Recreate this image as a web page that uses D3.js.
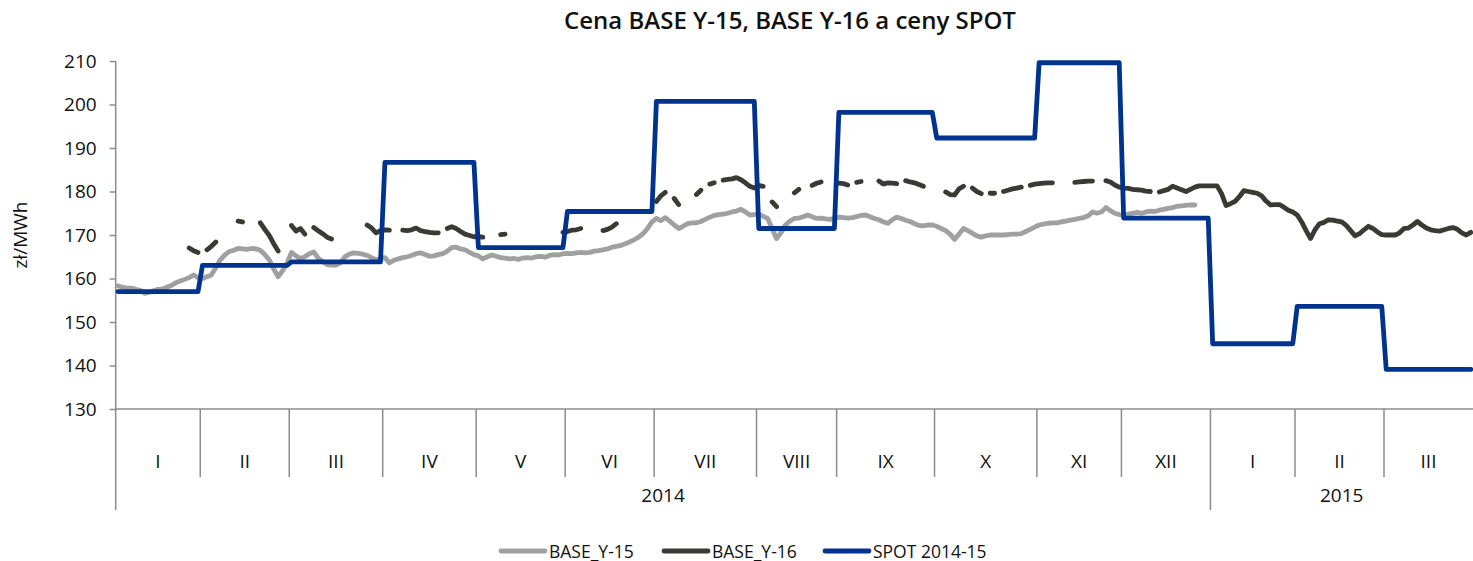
<!DOCTYPE html>
<html>
<head>
<meta charset="utf-8">
<script src="https://cdn.jsdelivr.net/npm/d3@7"></script>
<style>
  body { margin: 0; background: #fff; }
  text { font-family: "Open Sans", "Noto Sans", sans-serif; fill: #111; }
</style>
</head>
<body>
<div id="chart"></div>
<script>
////////////////////////////////////////////////////////////
//////////////////////// Data //////////////////////////////
////////////////////////////////////////////////////////////
var monthLabels = ["I","II","III","IV","V","VI","VII","VIII","IX","X","XI","XII","I","II","III"];
var monthCounts = [19,20,21,21,20,20,23,18,22,23,19,20,19,20,20];
var yearLabels = [{label: "2014", months: 12}, {label: "2015", months: 3}];
var yTicks = [130,140,150,160,170,180,190,200,210];

var spotMonthly = [157,163,163.8,186.7,167.1,175.4,200.7,171.5,198.2,192.3,209.6,173.9,145,153.6,139.1];

var base15 = [
  158.3,158,157.8,157.8,157.5,157.3,156.6,156.8,157.2,157.5,157.6,158,158.4,159,159.4,159.8,160.2,160.8,160.2,
  160,160.4,160.8,162.5,164.3,165.4,166.2,166.5,166.9,166.8,166.7,166.9,166.8,166.5,165.5,164.3,162.2,160.4,161.8,163.5,
  166,165.2,164.6,165,165.7,166.1,164.7,163.9,163.2,163.1,163.1,163.6,165,165.6,165.9,165.8,165.6,165.3,164.8,164.3,164.6,
  164.8,163.6,164.2,164.5,164.8,165,165.3,165.7,165.9,165.5,165.1,165.2,165.5,165.7,166.3,167.1,167.2,166.8,166.6,166,165.5,
  165.2,164.5,165,165.4,165.1,164.8,164.7,164.5,164.6,164.4,164.7,164.8,164.7,165,165.1,164.9,165.3,165.5,165.4,165.7,
  165.8,165.7,165.9,166,165.9,166,166.3,166.4,166.6,166.8,167.2,167.4,167.6,168,168.4,168.9,169.5,170.3,171.5,173,
  173.8,173.3,174,173.2,172.3,171.5,172,172.6,172.8,172.8,173.1,173.6,174.1,174.5,174.7,174.8,175,175.3,175.5,175.9,175.3,174.6,174.7,
  174.8,174.3,173.8,171.5,169.2,170.5,172.3,173.2,173.8,173.9,174.2,174.6,174.2,173.8,173.9,173.7,173.6,173.8,
  174.1,174,173.9,174,174.2,174.5,174.6,174.2,173.8,173.5,173,172.7,173.5,174.1,173.8,173.4,173.1,172.6,172.2,172.1,172.3,172.3,
  172,171.5,171,170.2,169,170.2,171.5,171,170.4,169.8,169.5,169.8,170,170,170,170,170.1,170.2,170.2,170.3,170.8,171.3,171.8,
  172.3,172.5,172.7,172.8,172.8,173,173.2,173.4,173.6,173.8,174,174.4,175.3,175,175.3,176.3,175.6,175,174.7,
  174.6,174.8,175,175.2,175,175.3,175.5,175.4,175.7,175.9,176.1,176.3,176.6,176.7,176.8,176.9,176.9
];

var base16 = [
  null,null,null,null,null,null,null,null,null,null,null,null,null,null,null,null,167,166.4,166,
  null,166.6,167.4,168.4,null,null,null,null,173.2,173,null,null,null,172.8,171.3,169.9,168,166.3,null,null,
  172.2,170.9,171.5,170.2,null,171.7,171,170.3,169.5,169.1,null,null,null,null,null,null,null,172.3,171.6,170.5,171,
  171.2,171.1,null,null,171.1,171,171.2,171.6,171,170.8,170.6,170.5,170.5,null,171.5,171.9,171.5,170.8,170.2,169.9,169.6,
  169.6,169.5,null,null,null,170.1,170.2,null,null,null,null,null,null,null,null,null,null,null,null,170.6,
  170.8,171.1,171.2,171.5,null,null,null,null,171,171.3,171.8,172.6,null,null,null,null,null,null,null,null,
  177.7,179,179.8,null,178.4,177,null,null,null,179.3,180.3,null,181.7,182,null,182.6,182.8,182.9,183.2,182.7,182,181.2,180.8,
  181.4,181.2,null,177.6,176.5,null,null,null,179.7,180.5,null,null,181.4,181.9,182.2,null,null,null,
  181.9,181.8,181.5,null,182.1,182.3,null,null,null,182.4,181.7,182,181.9,181.8,null,182.5,182.2,182,181.6,181.2,null,null,
  null,null,179.9,179.3,179.2,180.6,181.2,null,180.8,180,179.5,null,179.6,179.6,null,180,180.3,180.6,180.8,181,null,181.4,181.7,
  181.8,181.9,182,182,null,null,null,null,182.1,182.2,182.3,182.4,182.4,null,null,182.5,182.2,181.5,181,
  180.8,180.7,180.5,180.4,180.3,180.1,180,null,179.9,180.2,180.5,181.2,180.8,180.4,180,180.5,181,181.3,181.3,181.3,
  181.3,181.3,179.5,176.8,177.2,177.7,178.8,180.2,180,179.8,179.6,179,177.8,176.9,177,177,176.4,175.7,175.3,
  174.6,173,171,169.2,171.2,172.6,172.9,173.5,173.4,173.2,173,172.2,171,169.8,170.3,171.2,172,171.5,170.7,170.1,
  170,170,170,170.5,171.5,171.6,172.3,173.1,172.3,171.6,171.2,171,170.9,171.2,171.5,171.7,171.3,170.5,170,170.6
];

////////////////////////////////////////////////////////////
//////////////////////// Setup /////////////////////////////
////////////////////////////////////////////////////////////
var W = 1473, H = 561;
var margin = {left: 115.7, top: 61, right: 0, bottom: 152};
var plotBottom = H - margin.bottom;

var nPoints = d3.sum(monthCounts);
var monthStarts = [];
monthCounts.reduce(function(acc, c) { monthStarts.push(acc); return acc + c; }, 0);

// spot: monthly value held over every point of its month
var spot = [];
monthCounts.forEach(function(c, m) {
  for (var k = 0; k < c; k++) spot.push(spotMonthly[m]);
});

var x = d3.scaleBand()
  .domain(d3.range(nPoints))
  .range([margin.left, W - margin.right])
  .padding(0);

var y = d3.scaleLinear()
  .domain([130, 210])
  .range([plotBottom, margin.top]);

var xEdge = function(i) { return margin.left + i * x.step(); };
var xMid = function(i) { return x(i) + x.bandwidth() / 2; };

var svg = d3.select("#chart").append("svg")
  .attr("width", W)
  .attr("height", H);

var axisColor = "#8c8c8c";

////////////////////////////////////////////////////////////
//////////////////////// Axes //////////////////////////////
////////////////////////////////////////////////////////////
var yAxis = svg.append("g")
  .attr("transform", "translate(" + margin.left + ",0)")
  .call(d3.axisLeft(y).tickValues(yTicks).tickSize(6).tickPadding(13));
yAxis.select(".domain").remove();
yAxis.selectAll(".tick line").attr("stroke", axisColor).attr("stroke-width", 1.5);
yAxis.selectAll(".tick text")
  .style("font-size", "19px")
  .style("font-weight", 500)
  .style("font-family", "'Open Sans', sans-serif")
  .attr("fill", "#111");

// vertical axis line, runs down through the category area
svg.append("line")
  .attr("x1", margin.left).attr("x2", margin.left)
  .attr("y1", margin.top).attr("y2", 510)
  .attr("stroke", axisColor).attr("stroke-width", 1.5);

// horizontal axis line
svg.append("line")
  .attr("x1", margin.left).attr("x2", W)
  .attr("y1", plotBottom).attr("y2", plotBottom)
  .attr("stroke", axisColor).attr("stroke-width", 1.5);

// month separators + labels
var yearStartIdx = monthStarts[yearLabels[0].months];
svg.selectAll(".monthSep")
  .data(monthStarts.slice(1))
  .enter().append("line")
  .attr("class", "monthSep")
  .attr("x1", function(d) { return xEdge(d); })
  .attr("x2", function(d) { return xEdge(d); })
  .attr("y1", plotBottom)
  .attr("y2", function(d) { return d === yearStartIdx ? 510 : 477; })
  .attr("stroke", axisColor).attr("stroke-width", 1.5);

svg.selectAll(".monthLabel")
  .data(monthLabels)
  .enter().append("text")
  .attr("class", "monthLabel")
  .attr("x", function(d, i) { return (xEdge(monthStarts[i]) + xEdge(monthStarts[i] + monthCounts[i])) / 2; })
  .attr("y", 468)
  .attr("text-anchor", "middle")
  .style("font-size", "19px")
  .style("font-weight", 500)
  .text(function(d) { return d; });

var mAcc = 0;
yearLabels.forEach(function(yl) {
  var a = xEdge(monthStarts[mAcc]);
  var endM = mAcc + yl.months;
  var b = endM < monthStarts.length ? xEdge(monthStarts[endM]) : xEdge(nPoints);
  svg.append("text")
    .attr("x", (a + b) / 2)
    .attr("y", 502)
    .attr("text-anchor", "middle")
    .style("font-size", "19px")
    .style("font-weight", 500)
    .text(yl.label);
  mAcc = endM;
});

// y title
svg.append("text")
  .attr("transform", "translate(27," + ((margin.top + plotBottom) / 2) + ") rotate(-90)")
  .attr("text-anchor", "middle")
  .style("font-size", "19px")
  .style("font-weight", 500)
  .text("zł/MWh");

// title
svg.append("text")
  .attr("x", 790)
  .attr("y", 29)
  .attr("text-anchor", "middle")
  .style("font-size", "24px")
  .style("font-weight", 600)
  .text("Cena BASE Y-15, BASE Y-16 a ceny SPOT");

////////////////////////////////////////////////////////////
//////////////////////// Lines /////////////////////////////
////////////////////////////////////////////////////////////
var series = [
  {name: "BASE_Y-15", values: base15, color: "#a0a0a0"},
  {name: "BASE_Y-16", values: base16, color: "#3a3a35"},
  {name: "SPOT 2014-15", values: spot, color: "#00338d"}
];

var line = d3.line()
  .defined(function(d) { return d != null; })
  .x(function(d, i) { return xMid(i); })
  .y(function(d) { return y(d); });

series.forEach(function(s) {
  var vals = d3.range(nPoints).map(function(i) { return s.values[i] == null ? null : s.values[i]; });
  svg.append("path")
    .datum(vals)
    .attr("fill", "none")
    .attr("stroke", s.color)
    .attr("stroke-width", 4.8)
    .attr("stroke-linejoin", "round")
    .attr("stroke-linecap", "round")
    .attr("d", line);
});

////////////////////////////////////////////////////////////
//////////////////////// Legend ////////////////////////////
////////////////////////////////////////////////////////////
var legendX = [501, 664, 825];
var legend = svg.selectAll(".legendItem")
  .data(series)
  .enter().append("g")
  .attr("class", "legendItem")
  .attr("transform", function(d, i) { return "translate(" + legendX[i] + ",551)"; });

legend.append("line")
  .attr("x1", 0).attr("x2", 44)
  .attr("stroke", function(d) { return d.color; })
  .attr("stroke-width", 4.8)
  .attr("stroke-linecap", "round");

legend.append("text")
  .attr("x", 48)
  .attr("y", 6.5)
  .style("font-size", "17.5px")
  .style("font-weight", 500)
  .text(function(d) { return d.name; });
</script>
</body>
</html>
